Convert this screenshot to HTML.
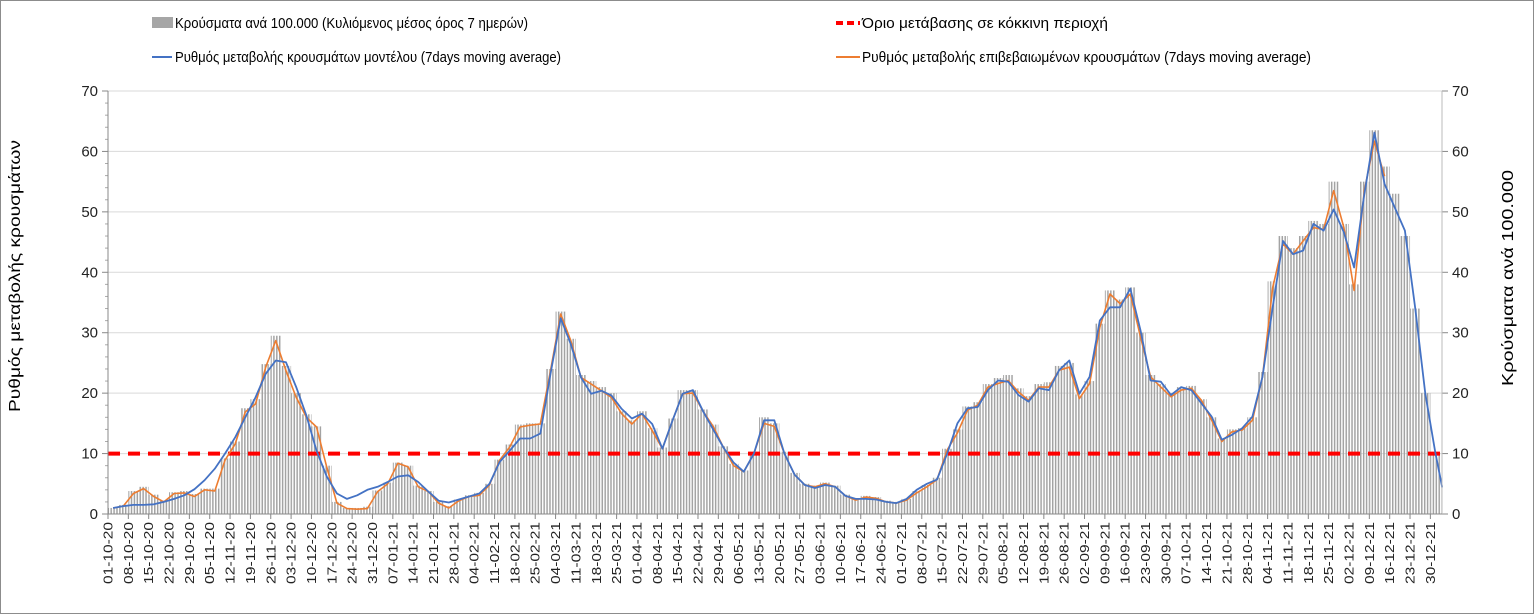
<!DOCTYPE html>
<html><head><meta charset="utf-8">
<style>
html,body{margin:0;padding:0;background:#fff;}
svg{display:block;font-family:"Liberation Sans",sans-serif;}
</style></head>
<body>
<svg id="chart" width="1534" height="614" viewBox="0 0 1534 614" xmlns="http://www.w3.org/2000/svg">
<defs>
<pattern id="stripes" patternUnits="userSpaceOnUse" width="2.906" height="10">
<rect x="0" y="0" width="1.5" height="10" fill="#a3a3a3"/>
</pattern>
</defs>
<rect x="0.5" y="0.5" width="1533" height="613" fill="#fff" stroke="#8c8c8c"/>
<g id="grid"></g>
<g id="bars"></g>
<g id="lines"></g>
<g id="axes"></g>
<g id="legend">
  <g>
    <rect x="152" y="17" width="21" height="11" fill="#a6a6a6"/>
    <text x="175" y="28" font-size="15" textLength="353" lengthAdjust="spacingAndGlyphs">Κρούσματα ανά 100.000 (Κυλιόμενος μέσος όρος 7 ημερών)</text>
  </g>
  <g>
    <line x1="152" y1="57" x2="172" y2="57" stroke="#4472C4" stroke-width="2"/>
    <text x="175" y="62" font-size="15" textLength="386" lengthAdjust="spacingAndGlyphs">Ρυθμός μεταβολής κρουσμάτων μοντέλου (7days moving average)</text>
  </g>
  <g>
    <line x1="836" y1="23" x2="860" y2="23" stroke="#FF0000" stroke-width="4" stroke-dasharray="7,4"/>
    <text x="862" y="28" font-size="15" textLength="246" lengthAdjust="spacingAndGlyphs">Όριο μετάβασης σε κόκκινη περιοχή</text>
  </g>
  <g>
    <line x1="836" y1="57" x2="860" y2="57" stroke="#ED7D31" stroke-width="2"/>
    <text x="862" y="62" font-size="15" textLength="449" lengthAdjust="spacingAndGlyphs">Ρυθμός μεταβολής επιβεβαιωμένων κρουσμάτων (7days moving average)</text>
  </g>
</g>
<text transform="translate(20,276) rotate(-90)" text-anchor="middle" font-size="16" textLength="272" lengthAdjust="spacingAndGlyphs">Ρυθμός μεταβολής κρουσμάτων</text>
<text transform="translate(1513,278) rotate(-90)" text-anchor="middle" font-size="16" textLength="216" lengthAdjust="spacingAndGlyphs">Κρούσματα ανά 100.000</text>
</svg>
<script>
// half-week samples starting 01-10-20
const weekLabels = ["01-10-20","08-10-20","15-10-20","22-10-20","29-10-20","05-11-20","12-11-20","19-11-20","26-11-20","03-12-20","10-12-20","17-12-20","24-12-20","31-12-20","07-01-21","14-01-21","21-01-21","28-01-21","04-02-21","11-02-21","18-02-21","25-02-21","04-03-21","11-03-21","18-03-21","25-03-21","01-04-21","08-04-21","15-04-21","22-04-21","29-04-21","06-05-21","13-05-21","20-05-21","27-05-21","03-06-21","10-06-21","17-06-21","24-06-21","01-07-21","08-07-21","15-07-21","22-07-21","29-07-21","05-08-21","12-08-21","19-08-21","26-08-21","02-09-21","09-09-21","16-09-21","23-09-21","30-09-21","07-10-21","14-10-21","21-10-21","28-10-21","04-11-21","11-11-21","18-11-21","25-11-21","02-12-21","09-12-21","16-12-21","23-12-21","30-12-21"];
const yTicks = [0,10,20,30,40,50,60,70];
const threshold = 10;
const modelRate = [1,1.3,1.5,1.5,1.6,2,2.5,3.1,4.1,5.6,7.5,10,12.7,16,19.3,23.2,25.4,25.1,21,16.3,10.5,6.2,3.4,2.5,3.1,4,4.5,5.3,6.2,6.4,5.3,3.7,2.2,1.9,2.4,2.9,3.4,5,8.6,10.5,12.5,12.5,13.3,23.2,32.4,28.1,22.6,19.9,20.4,19.6,17.4,15.8,16.6,14.9,10.8,15.5,19.9,20.5,17,14,11,8.5,7,10,15.5,15.5,10,6.5,4.8,4.3,4.8,4.5,3,2.5,2.5,2.4,2,1.8,2.5,4,5,5.7,10,15,17.5,17.7,20.5,22.1,21.9,19.7,18.6,20.8,20.5,23.8,25.4,19.9,22.7,32,34.2,34.2,37.3,30.4,22.1,21.9,19.7,21,20.5,18.3,16.1,12.3,13.1,14.2,16.1,22.7,34.2,45.2,43,43.6,48,46.9,50.4,46.6,40.8,52.9,63.1,54.6,50.7,46.9,34.2,19.9,10,4.6,4.4];
const confirmedRate = [1,1.3,3.4,4.2,2.9,2,3.4,3.5,2.9,4,3.8,8.9,11.6,16.9,18.2,24.3,28.7,23.7,19.3,16,14.4,7.8,1.8,0.9,0.8,0.9,3.7,5,8.4,7.8,4.5,3.7,1.8,1,2.2,2.9,3.1,4.8,8.9,11.1,14.4,14.7,14.9,23.7,33.1,28.7,22.6,21.5,20.4,19.3,16.6,14.9,16.6,13.8,10.8,15.5,19.9,20,17,14.5,11,8,7,10,15,14.5,10,6.5,4.8,4.5,5,4.5,3,2.3,2.8,2.6,2,1.8,2.3,3.5,4.5,5.7,10.6,13.4,17.2,18,21,21.6,22.1,20.2,18.8,21,21,23.8,24.3,19.1,21.6,30.9,36.4,34.8,36.4,29.3,22.7,21,19.4,20.5,20.8,18.8,15.5,12,13.6,13.9,15.5,22.7,37.5,44.7,43,45.2,47.4,47.1,53.5,47.4,37,53.5,61.7,55.9,null,null,null,null,null,null,null,null];
const casesPer100k = [1,1.5,3.8,4.5,3.2,2.2,3.6,3.8,3.3,4.2,4.2,9.2,12,17.5,19,24.8,29.5,24.5,20,16.5,14.5,8,2,1,1,1.2,3.9,5.2,8.5,8,4.7,3.8,2,1.3,2.4,3.1,3.5,5,9,11.5,14.8,15,15,24,33.5,29,23,22,21,20,17,15.5,17,14.2,11,15.8,20.5,20.5,17.3,14.8,11.2,8.3,7.2,10.3,16,15,10.3,6.8,5,4.7,5.2,4.7,3.2,2.5,3,2.8,2.2,2,2.5,3.8,4.8,6,10.8,14,17.8,18.5,21.5,22.5,23,20.8,19.5,21.5,21.8,24.5,25,19.8,22,31.5,37,35.5,37.5,30,23,21.5,20,21,21.2,19,16,12.5,14,14.2,16,23.5,38.5,46,44,46,48.5,48,55,48,38,55,63.5,57.5,53,46,34,20,10,4.6,4.4];

const NS = "http://www.w3.org/2000/svg";
const L = 108, R = 1442, T = 91, B = 514;
const DAY = (R - L) / 459;
function xScale(i){ return L + i * 3.5 * DAY; }
function xWeek(k){ return L + k * 7 * DAY; }
function yScale(v){ return B - v / 70 * (B - T); }
function mk(tag, attrs, parent){ const e = document.createElementNS(NS, tag); for (const k in attrs) e.setAttribute(k, attrs[k]); parent.appendChild(e); return e; }

const grid = document.getElementById('grid');
const axes = document.getElementById('axes');
yTicks.forEach(v => {
  if (v > 0) {
    const g = mk('line', {x1:L, x2:R, y1:yScale(v), y2:yScale(v), stroke:'#d9d9d9', 'stroke-width':1}, grid);
    
    
  }
  const tl = mk('text', {x:L-10, y:yScale(v)+5, 'text-anchor':'end', 'font-size':15, fill:'#222'}, axes);
  tl.textContent = v;
  
  
  const tr = mk('text', {x:R+10, y:yScale(v)+5, 'text-anchor':'start', 'font-size':15, fill:'#222'}, axes);
  tr.textContent = v;
  
  
  mk('line', {x1:L-6, x2:L, y1:yScale(v), y2:yScale(v), stroke:'#888'}, axes);
  mk('line', {x1:R, x2:R+6, y1:yScale(v), y2:yScale(v), stroke:'#888'}, axes);
});
for (let v = 2; v < 70; v += 2) {
  if (v % 10) { mk('line', {x1:L-3, x2:L, y1:yScale(v), y2:yScale(v), stroke:'#aaa'}, axes); }
}
mk('line', {x1:L, x2:L, y1:T, y2:B, stroke:'#888'}, axes);
mk('line', {x1:R, x2:R, y1:T, y2:B, stroke:'#bbb'}, axes);
mk('line', {x1:L, x2:R, y1:B, y2:B, stroke:'#888'}, axes);
weekLabels.forEach((lab, k) => {
  const x = xWeek(k);
  mk('line', {x1:x, x2:x, y1:B, y2:B+5, stroke:'#888'}, axes);
  const t = mk('text', {transform:'translate(' + (x+4.5) + ',' + (B+8) + ') rotate(-90)', 'text-anchor':'end', 'font-size':13, fill:'#222', textLength:62, lengthAdjust:'spacingAndGlyphs'}, axes);
  t.textContent = lab;
  
  
});

const bars = document.getElementById('bars');
casesPer100k.forEach((v, i) => {
  const x0 = xScale(i);
  const w = Math.min(xScale(i + 1), R) - x0;
  if (w <= 0) return;
  const r = mk('rect', {x:x0, y:yScale(v), width:w, height:B - yScale(v), fill:'url(#stripes)'}, bars);
  
  
});

const lines = document.getElementById('lines');
const th = mk('line', {x1:L, x2:R, y1:yScale(threshold), y2:yScale(threshold), stroke:'#FF0000', 'stroke-width':4, 'stroke-dasharray':'12,8'}, lines);



function path(arr){
  let d = '', started = false;
  arr.forEach((v, i) => {
    if (v === null) return;
    const x = Math.min(xScale(i + 0.5), R), y = yScale(v);
    d += (started ? 'L' : 'M') + x.toFixed(1) + ',' + y.toFixed(1);
    started = true;
  });
  return d;
}
const po = mk('path', {d:path(confirmedRate), fill:'none', stroke:'#ED7D31', 'stroke-width':1.6, 'stroke-linejoin':'round'}, lines);


const pb = mk('path', {d:path(modelRate), fill:'none', stroke:'#4472C4', 'stroke-width':1.8, 'stroke-linejoin':'round'}, lines);


</script>
</body></html>
